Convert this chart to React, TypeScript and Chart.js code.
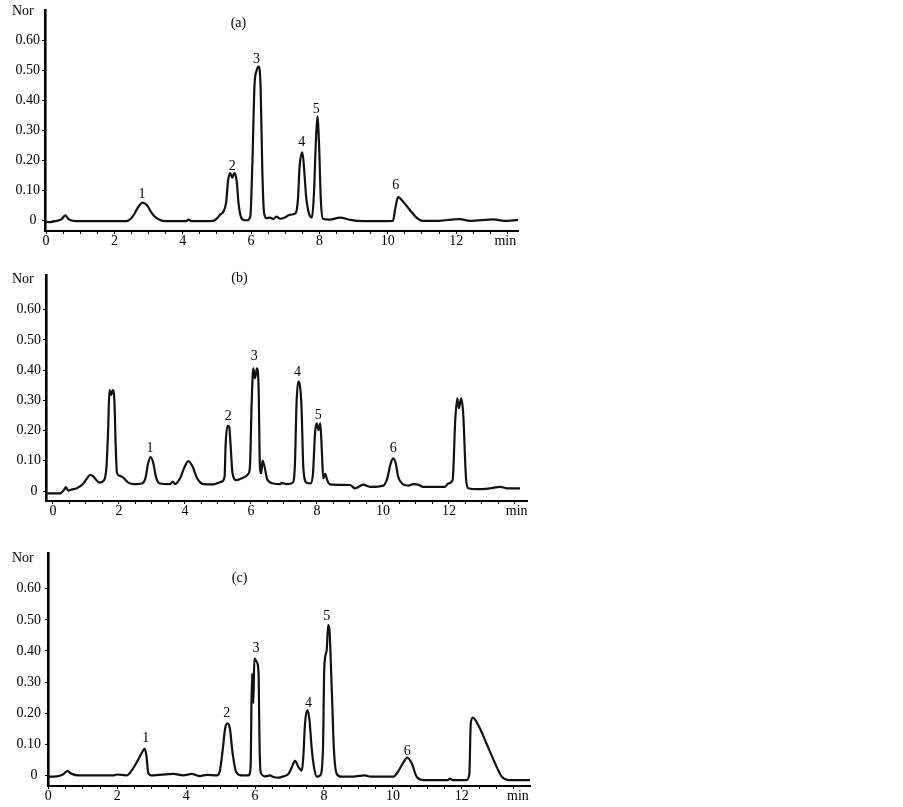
import React, { useEffect, useRef } from 'react';
import { Chart, registerables } from 'chart.js';

Chart.register(...registerables);

const FONT = "'Liberation Serif', 'Times New Roman', serif";

// retention time (min), normalised signal
const traceA: [number, number][] = [
  [0, -0.005], [0.12, -0.006], [0.3, -0.002], [0.45, 0.003], [0.56, 0.016], [0.66, 0.004], [0.8, -0.002],
  [0.95, -0.003], [2.35, -0.003], [2.48, 0.005], [2.58, 0.02], [2.7, 0.045], [2.83, 0.059], [2.96, 0.049],
  [3.06, 0.03], [3.17, 0.013], [3.33, 0.001], [3.5, -0.003], [4.1, -0.003], [4.17, 0.002], [4.25, -0.003],
  [4.89, -0.002], [5.0, 0.006], [5.09, 0.018], [5.2, 0.031], [5.27, 0.06], [5.33, 0.135], [5.39, 0.158],
  [5.45, 0.142], [5.51, 0.158], [5.58, 0.13], [5.63, 0.06], [5.7, 0.012], [5.8, 0.0], [5.9, 0.0],
  [5.98, 0.015], [6.04, 0.2], [6.1, 0.45], [6.16, 0.5], [6.23, 0.514], [6.28, 0.44], [6.33, 0.16],
  [6.38, 0.025], [6.45, 0.007], [6.55, 0.009], [6.65, 0.004], [6.74, 0.012], [6.85, 0.005], [7.0, 0.01],
  [7.13, 0.018], [7.3, 0.023], [7.37, 0.068], [7.42, 0.18], [7.5, 0.227], [7.55, 0.175], [7.61, 0.08],
  [7.7, 0.02], [7.78, 0.009], [7.84, 0.09], [7.89, 0.246], [7.94, 0.347], [7.99, 0.25], [8.04, 0.07],
  [8.1, 0.005], [8.3, 0.002], [8.6, 0.009], [8.9, 0.001], [9.3, -0.003], [10.15, -0.002], [10.22, 0.04],
  [10.3, 0.077], [10.45, 0.062], [10.64, 0.035], [10.84, 0.009], [11.03, -0.002], [11.45, -0.002],
  [11.95, 0.003], [12.1, 0.004], [12.4, -0.002], [13.1, 0.003], [13.4, -0.002], [13.81, 0.001],
];

const traceB: [number, number][] = [
  [-0.2, -0.008], [0.2, -0.008], [0.33, 0.003], [0.39, 0.013], [0.46, 0.001], [0.56, 0.005], [0.72, 0.009],
  [0.92, 0.025], [1.05, 0.045], [1.12, 0.053], [1.2, 0.05], [1.3, 0.038], [1.4, 0.028], [1.55, 0.036],
  [1.62, 0.08], [1.67, 0.2], [1.71, 0.334], [1.76, 0.318], [1.81, 0.334], [1.86, 0.3], [1.9, 0.15],
  [1.94, 0.059], [2.03, 0.05], [2.13, 0.044], [2.28, 0.028], [2.48, 0.023], [2.69, 0.025], [2.8, 0.042],
  [2.88, 0.09], [2.96, 0.112], [3.04, 0.092], [3.12, 0.047], [3.24, 0.025], [3.55, 0.023], [3.63, 0.031],
  [3.7, 0.023], [3.85, 0.042], [3.97, 0.075], [4.1, 0.099], [4.23, 0.081], [4.37, 0.042], [4.56, 0.023],
  [4.86, 0.022], [5.11, 0.031], [5.2, 0.047], [5.23, 0.15], [5.29, 0.216], [5.34, 0.213], [5.38, 0.155],
  [5.44, 0.059], [5.56, 0.036], [5.72, 0.042], [5.92, 0.057], [5.97, 0.085], [6.02, 0.29], [6.07, 0.406],
  [6.12, 0.373], [6.18, 0.406], [6.23, 0.345], [6.27, 0.081], [6.31, 0.059], [6.35, 0.101], [6.42, 0.076],
  [6.49, 0.039], [6.68, 0.025], [6.88, 0.023], [6.93, 0.027], [7.08, 0.023], [7.26, 0.027], [7.33, 0.085],
  [7.38, 0.29], [7.43, 0.362], [7.48, 0.351], [7.53, 0.279], [7.59, 0.07], [7.69, 0.027], [7.81, 0.025],
  [7.88, 0.06], [7.94, 0.191], [7.99, 0.224], [8.05, 0.202], [8.1, 0.224], [8.15, 0.125], [8.19, 0.042],
  [8.25, 0.057], [8.31, 0.036], [8.39, 0.022], [9.0, 0.02], [9.15, 0.009], [9.4, 0.021], [9.61, 0.014],
  [10.01, 0.018], [10.13, 0.042], [10.23, 0.09], [10.31, 0.108], [10.39, 0.09], [10.46, 0.047],
  [10.6, 0.023], [10.77, 0.018], [10.92, 0.023], [11.07, 0.021], [11.22, 0.014], [11.88, 0.014],
  [11.98, 0.025], [12.11, 0.036], [12.19, 0.235], [12.25, 0.307], [12.3, 0.274], [12.37, 0.307],
  [12.43, 0.257], [12.52, 0.036], [12.59, 0.009], [12.84, 0.006], [13.24, 0.009], [13.55, 0.014],
  [13.75, 0.009], [14.15, 0.009],
];

const traceC: [number, number][] = [
  [0, -0.004], [0.24, -0.003], [0.42, 0.003], [0.55, 0.014], [0.68, 0.005], [0.87, 0], [1.89, 0],
  [1.98, 0.003], [2.27, 0], [2.42, 0.016], [2.57, 0.043], [2.71, 0.072], [2.8, 0.086], [2.85, 0.06],
  [2.9, 0.008], [3.0, 0], [3.63, 0.005], [3.92, 0], [4.16, 0.005], [4.4, -0.002], [4.6, 0.002], [4.89, 0],
  [4.98, 0.016], [5.06, 0.081], [5.13, 0.15], [5.2, 0.167], [5.27, 0.15], [5.35, 0.07], [5.45, 0.011],
  [5.61, 0], [5.81, 0], [5.87, 0.027], [5.91, 0.327], [5.95, 0.232], [5.98, 0.376], [6.05, 0.365],
  [6.1, 0.333], [6.13, 0.102], [6.16, 0.011], [6.29, -0.003], [6.43, 0], [6.53, -0.005], [6.68, -0.007],
  [6.82, -0.003], [6.97, 0.005], [7.07, 0.027], [7.16, 0.047], [7.26, 0.027], [7.36, 0.016], [7.4, 0.059],
  [7.45, 0.167], [7.52, 0.21], [7.58, 0.178], [7.64, 0.092], [7.71, 0.027], [7.79, -0.004], [7.89, 0],
  [7.97, 0.081], [8.01, 0.349], [8.08, 0.403], [8.12, 0.483], [8.16, 0.467], [8.2, 0.36], [8.24, 0.232],
  [8.29, 0.081], [8.37, 0.005], [8.51, -0.004], [8.76, -0.004], [9.19, 0], [9.34, -0.004], [10.02, -0.004],
  [10.16, 0.014], [10.31, 0.043], [10.42, 0.057], [10.55, 0.038], [10.69, -0.004], [10.89, -0.015],
  [11.6, -0.015], [11.66, -0.01], [11.72, -0.015], [12.14, -0.015], [12.22, 0.005], [12.26, 0.167],
  [12.32, 0.186], [12.48, 0.161], [12.72, 0.102], [12.97, 0.038], [13.16, -0.004], [13.36, -0.015],
  [13.98, -0.015],
];

// peak number labels: [text, time, signal]
const peaksA: [string, number, number][] = [
  ['1', 2.81, 0.085], ['2', 5.45, 0.181], ['3', 6.16, 0.538], ['4', 7.48, 0.26], ['5', 7.91, 0.372], ['6', 10.23, 0.118],
];
const peaksB: [string, number, number][] = [
  ['1', 2.94, 0.141], ['2', 5.31, 0.248], ['3', 6.1, 0.445], ['4', 7.41, 0.392], ['5', 8.04, 0.252], ['6', 10.31, 0.141],
];
const peaksC: [string, number, number][] = [
  ['1', 2.83, 0.119], ['2', 5.18, 0.201], ['3', 6.03, 0.408], ['4', 7.55, 0.233], ['5', 8.08, 0.51], ['6', 10.42, 0.079],
];

const panelTitles = ['(a)', '(b)', '(c)'];
const yTickValues = [0, 0.1, 0.2, 0.3, 0.4, 0.5, 0.6];
const xLabelValues = [0, 2, 4, 6, 8, 10, 12];
const yAxisLabel = 'Nor';
const xAxisLabel = 'min';

type Panel = {
  trace: [number, number][];
  peaks: [string, number, number][];
  title: string;
  titlePos: [number, number];
  minPos: number;
  top: number;
  height: number;
  yWidth: number;
  xHeight: number;
  padTop: number;
  padRight: number;
  xMin: number;
  xMax: number;
  yMin: number;
  yMax: number;
  yPad: number;
  norOffset: number;
};

const panels: Panel[] = [
  {
    trace: traceA, peaks: peaksA, title: panelTitles[0], titlePos: [5.63, 0.659], minPos: 13.44,
    top: 0, height: 258, yWidth: 45, xHeight: 27, padTop: 10, padRight: 22,
    xMin: -0.03, xMax: 13.81, yMin: -0.036, yMax: 0.703, yPad: 2, norOffset: 1,
  },
  {
    trace: traceB, peaks: peaksB, title: panelTitles[1], titlePos: [5.65, 0.704], minPos: 14.05,
    top: 258, height: 268, yWidth: 46, xHeight: 25, padTop: 17, padRight: 13,
    xMin: -0.212, xMax: 14.364, yMin: -0.033, yMax: 0.715, yPad: 2, norOffset: 4,
  },
  {
    trace: traceC, peaks: peaksC, title: panelTitles[2], titlePos: [5.55, 0.633], minPos: 13.63,
    top: 526, height: 281, yWidth: 48, xHeight: 21, padTop: 27, padRight: 10,
    xMin: -0.01, xMax: 13.98, yMin: -0.034, yMax: 0.715, yPad: 4, norOffset: 5,
  },
];

function makeAnnotations(p: Panel) {
  return {
    id: 'annotations',
    afterDraw(chart: any) {
      const { ctx, chartArea } = chart;
      const xs = chart.scales.x;
      const ys = chart.scales.y;
      ctx.save();
      ctx.fillStyle = '#000';
      ctx.font = `14px ${FONT}`;
      ctx.textAlign = 'center';
      ctx.textBaseline = 'middle';
      for (const [txt, t, v] of p.peaks) {
        ctx.fillText(txt, xs.getPixelForValue(t), ys.getPixelForValue(v));
      }
      ctx.fillText(p.title, xs.getPixelForValue(p.titlePos[0]), ys.getPixelForValue(p.titlePos[1]));
      ctx.fillText(xAxisLabel, xs.getPixelForValue(p.minPos), chartArea.bottom + 10);
      ctx.textAlign = 'left';
      ctx.fillText(yAxisLabel, 12, chartArea.top + p.norOffset);
      ctx.restore();
    },
  };
}

function ChromPanel({ p }: { p: Panel }) {
  const ref = useRef<HTMLCanvasElement>(null);
  useEffect(() => {
    if (!ref.current) return;
    const chart = new Chart(ref.current, {
      type: 'line',
      data: {
        datasets: [
          {
            data: p.trace.map(([x, y]) => ({ x, y })),
            borderColor: '#111',
            borderWidth: 2.2,
            pointRadius: 0,
            fill: false,
            cubicInterpolationMode: 'monotone',
          },
        ],
      },
      options: {
        animation: false,
        responsive: false,
        events: [],
        layout: { padding: { left: 0, top: p.padTop, right: p.padRight, bottom: 0 } },
        plugins: { legend: { display: false }, tooltip: { enabled: false } },
        scales: {
          x: {
            type: 'linear',
            min: p.xMin,
            max: p.xMax,
            afterFit: (s: any) => { s.height = p.xHeight; },
            afterBuildTicks: (s: any) => {
              const ticks = [];
              for (let i = 0; i * 0.5 <= p.xMax; i++) ticks.push({ value: i * 0.5 });
              s.ticks = ticks;
            },
            grid: { drawOnChartArea: false, drawTicks: true, tickLength: 3, color: '#000', lineWidth: 1 },
            border: { display: true, color: '#000', width: 2 },
            ticks: {
              autoSkip: false,
              maxRotation: 0,
              padding: 0,
              color: '#000',
              font: { family: FONT, size: 14, lineHeight: 1 },
              callback: (v: any) => (xLabelValues.includes(Number(v)) ? String(v) : ''),
            },
          },
          y: {
            type: 'linear',
            min: p.yMin,
            max: p.yMax,
            afterFit: (s: any) => { s.width = p.yWidth; },
            afterBuildTicks: (s: any) => { s.ticks = yTickValues.map((v) => ({ value: v })); },
            grid: { drawOnChartArea: false, drawTicks: true, tickLength: 3, color: '#000', lineWidth: 1 },
            border: { display: true, color: '#000', width: 2.6 },
            ticks: {
              padding: p.yPad,
              color: '#000',
              font: { family: FONT, size: 14, lineHeight: 1 },
              callback: (v: any) => (Number(v) === 0 ? '0 ' : Number(v).toFixed(2)),
            },
          },
        },
      },
      plugins: [makeAnnotations(p)],
    } as any);
    return () => chart.destroy();
  }, [p]);
  return (
    <canvas
      ref={ref}
      width={540}
      height={p.height}
      style={{ position: 'absolute', left: 0, top: p.top, width: 540, height: p.height }}
    />
  );
}

export default function App() {
  return (
    <div style={{ position: 'absolute', left: 0, top: 0, width: 903, height: 807, background: '#fff', overflow: 'hidden' }}>
      {panels.map((p, i) => (
        <ChromPanel key={i} p={p} />
      ))}
    </div>
  );
}
